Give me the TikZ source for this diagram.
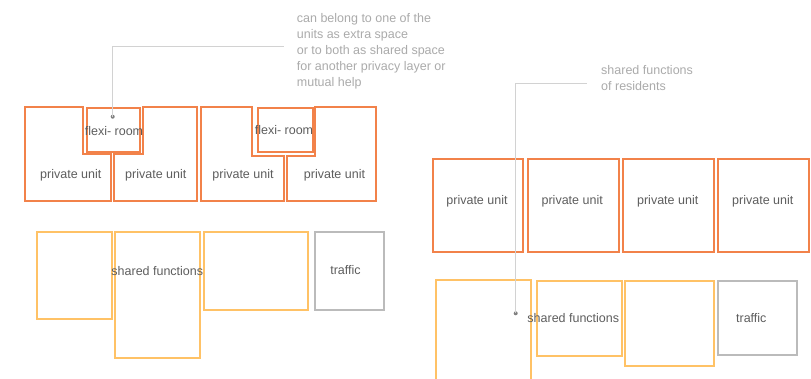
\documentclass[tikz,border=0pt]{standalone}
\usepackage{fontspec}
\setmainfont{Liberation Sans}
\definecolor{unitorange}{HTML}{F2824A}
\definecolor{sharedyellow}{HTML}{FFC266}
\definecolor{trafficgrey}{HTML}{BBBBBB}
\definecolor{labelgrey}{HTML}{5E5E5E}
\definecolor{notegrey}{HTML}{ABABAB}
\definecolor{leadergrey}{HTML}{D2D2D2}
\tikzset{
  unitline/.style={draw=unitorange, line width=1.8pt, line join=miter},
  sharedbox/.style={draw=sharedyellow, line width=1.8pt, anchor=north west, inner sep=0pt},
  trafficbox/.style={draw=trafficgrey, line width=1.8pt, anchor=north west, inner sep=0pt},
  unitbox/.style={unitline, anchor=north west, inner sep=0pt},
  lbl/.style={text=labelgrey, font=\fontsize{12.5}{15}\selectfont, inner sep=0pt},
  note/.style={text=notegrey, font=\fontsize{12.5}{15.8}\selectfont, align=left, inner sep=0pt, anchor=north west},
  leader/.style={draw=leadergrey, line width=0.8pt},
  dot/.style={circle, fill=gray, inner sep=0pt, minimum size=4pt}
}
\begin{document}
\begin{tikzpicture}[x=1pt,y=-1pt]
\useasboundingbox[fill=white] (0,0) rectangle (811,379);
% ---------- left: units with flexi-rooms ----------
\draw[unitline] (25,107.3) -- (83,107.3) -- (83,154) -- (110.7,154) -- (110.7,200.7) -- (25,200.7) -- cycle;
\draw[unitline] (142.7,107.3) -- (197.3,107.3) -- (197.3,200.7) -- (114,200.7) -- (114,154) -- (142.7,154) -- cycle;
\node[unitbox, minimum width=53.3pt, minimum height=43.7pt] (flexA) at (86,107.3) {};
\draw[unitline] (201,107.3) -- (252.3,107.3) -- (252.3,155.7) -- (284,155.7) -- (284,200.7) -- (201,200.7) -- cycle;
\draw[unitline] (315,107.3) -- (376,107.3) -- (376,200.7) -- (287.3,200.7) -- (287.3,155.7) -- (315,155.7) -- cycle;
\node[unitbox, minimum width=54.4pt, minimum height=43.7pt] (flexB) at (257.3,107.3) {};
\node[lbl] (fa) at (114,131) {flexi- room};
\node[lbl] (fb) at (284,130) {flexi- room};
\node[lbl] (pu1) at (70.8,175) {private unit};
\node[lbl] (pu2) at (155.8,175) {private unit};
\node[lbl] (pu3) at (243,175) {private unit};
\node[lbl] (pu4) at (334.5,175) {private unit};
% left shared functions
\node[sharedbox, minimum width=74.7pt, minimum height=87pt] (s1) at (36,231) {};
\node[sharedbox, minimum width=85.3pt, minimum height=125.7pt] (s2) at (114,231) {};
\node[sharedbox, minimum width=104.6pt, minimum height=78pt] (s3) at (202.7,231) {};
\node[trafficbox, minimum width=69pt, minimum height=78.3pt] (t1) at (314.3,231) {};
\node[lbl] (sfl) at (157.3,270.7) {shared functions};
\node[lbl] (tl) at (345.5,270) {traffic};
% left annotation
\node[note] (noteA) at (296.7,13.6) {can belong to one of the\\units as extra space\\or to both as shared space\\for another privacy layer or\\mutual help};
\node[dot] (dotA) at (112.7,116.7) {};
\coordinate (cornerA) at (112.7,46.7);
\coordinate (endA) at (284,46.7);
\draw[leader] (dotA.center) -- (cornerA) -- (endA);
% ---------- right: units ----------
\node[unitbox, minimum width=90.6pt, minimum height=92.7pt] (r1) at (431.7,158.3) {};
\node[unitbox, minimum width=91pt, minimum height=92.7pt] (r2) at (526.7,158.3) {};
\node[unitbox, minimum width=90.7pt, minimum height=92.7pt] (r3) at (622.3,158.3) {};
\node[unitbox, minimum width=91pt, minimum height=92.7pt] (r4) at (717.3,158.3) {};
\node[lbl] (rl1) at (477,201.7) {private unit};
\node[lbl] (rl2) at (572.2,201.7) {private unit};
\node[lbl] (rl3) at (667.7,201.7) {private unit};
\node[lbl] (rl4) at (762.8,201.7) {private unit};
% right shared functions
\draw[draw=sharedyellow, line width=1.8pt] (436,385) -- (436,280) -- (530.7,280) -- (530.7,385);
\node[sharedbox, minimum width=85pt, minimum height=75pt] (q2) at (535.7,280) {};
\node[sharedbox, minimum width=89.3pt, minimum height=85pt] (q3) at (624,280) {};
\node[trafficbox, minimum width=79pt, minimum height=73.7pt] (t2) at (717,280) {};
\node[lbl] (sfr) at (573.3,318.3) {shared functions};
\node[lbl] (tr) at (751.3,318) {traffic};
% right annotation
\node[note] (noteB) at (601,65) {shared functions\\of residents};
\node[dot] (dotB) at (515.7,313.3) {};
\coordinate (cornerB) at (515.7,83.7);
\coordinate (endB) at (587.3,83.7);
\draw[leader] (dotB.center) -- (cornerB) -- (endB);
\end{tikzpicture}
\end{document}
